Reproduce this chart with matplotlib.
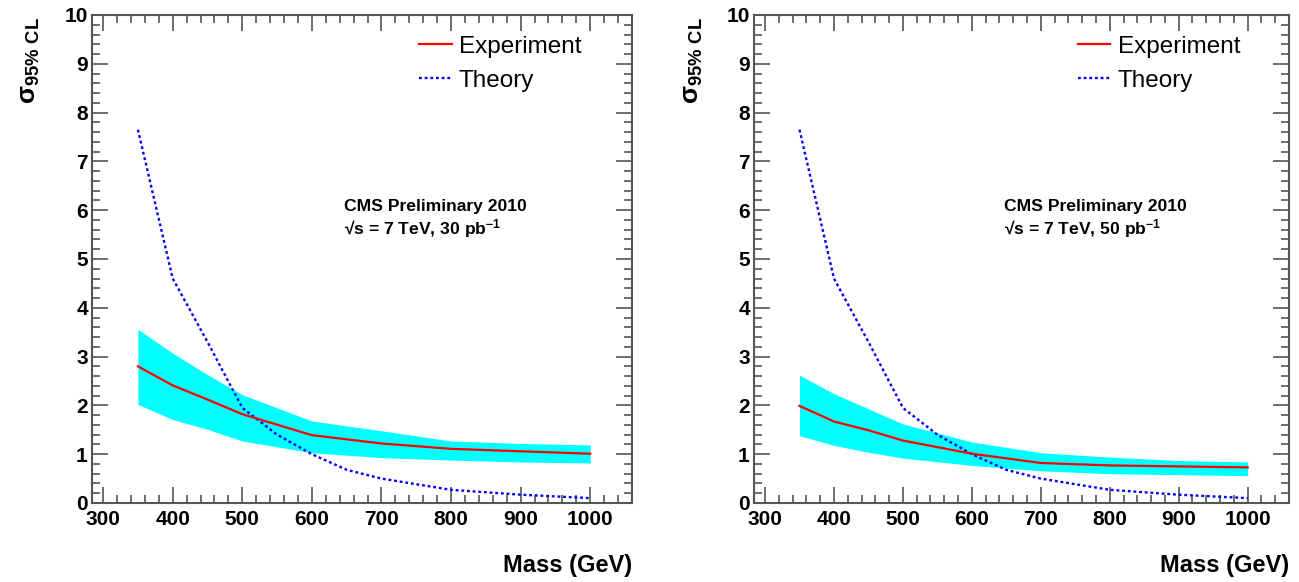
import numpy as np
import matplotlib
matplotlib.use("Agg")
import matplotlib.pyplot as plt
from matplotlib.ticker import MultipleLocator

plt.rcParams['font.family'] = ['Liberation Sans', 'DejaVu Sans']
plt.rcParams['mathtext.fontset'] = 'custom'
plt.rcParams['mathtext.rm'] = 'Liberation Sans'
plt.rcParams['mathtext.bf'] = 'Liberation Sans:bold'
plt.rcParams['mathtext.it'] = 'Liberation Sans:bold'

# mass points (GeV)
mass = [350, 400, 450, 500, 600, 700, 800, 900, 1000]

# 30 pb^-1
exp_30 = [2.80, 2.41, 2.12, 1.82, 1.39, 1.22, 1.11, 1.06, 1.01]
hi_30 = [3.56, 3.07, 2.63, 2.22, 1.68, 1.48, 1.27, 1.22, 1.19]
lo_30 = [2.02, 1.71, 1.51, 1.27, 1.03, 0.93, 0.88, 0.84, 0.82]

# 50 pb^-1
exp_50 = [1.99, 1.67, 1.49, 1.28, 1.01, 0.82, 0.77, 0.75, 0.73]
hi_50 = [2.62, 2.24, 1.93, 1.62, 1.25, 1.03, 0.94, 0.87, 0.84]
lo_50 = [1.38, 1.18, 1.04, 0.92, 0.77, 0.66, 0.60, 0.58, 0.56]

# theory cross section
th_mass = [350, 400, 450, 500, 550, 600, 650, 700, 800, 900, 1000]
theory = [7.65, 4.6, 3.3, 1.95, 1.4, 1.0, 0.68, 0.5, 0.27, 0.17, 0.1]

lumis = ["30", "50"]

fig = plt.figure(figsize=(12.99, 5.82), dpi=100)
W, H = 1299, 582
boxes = [(92, 632), (754, 1289)]
top, bot = 15, 503

panels = [(exp_30, hi_30, lo_30), (exp_50, hi_50, lo_50)]

for (x0, x1), (e, hi, lo), lumi in zip(boxes, panels, lumis):
    ax = fig.add_axes([x0 / W, (H - bot) / H, (x1 - x0) / W, (bot - top) / H])
    ax.fill_between(mass, lo, hi, color='#00FFFF', lw=0, zorder=1)
    ax.plot(mass, e, color='#FF0000', lw=1.6, label='Experiment', zorder=3)
    ax.plot(th_mass, theory, color='#0000FF', lw=1.7, ls=(0, (1.2, 1.2)),
            label='Theory', zorder=2)
    ax.set_xlim(284, 1060)
    ax.set_ylim(0, 10)
    ax.xaxis.set_major_locator(MultipleLocator(100))
    ax.xaxis.set_minor_locator(MultipleLocator(20))
    ax.yaxis.set_major_locator(MultipleLocator(1))
    ax.yaxis.set_minor_locator(MultipleLocator(0.2))
    ax.tick_params(which='both', direction='in', top=True, right=True,
                   color='#555555', width=1.2)
    ax.tick_params(which='major', length=11.5, labelsize=15)
    ax.tick_params(which='minor', length=5.8)
    ax.tick_params(axis='x', which='major', pad=5)
    ax.tick_params(axis='y', which='major', pad=3)
    for lab in ax.get_xticklabels() + ax.get_yticklabels():
        lab.set_fontweight('bold')
    for sp in ax.spines.values():
        sp.set_color('#555555')
        sp.set_linewidth(1.5)

    ax.set_xlabel('Mass (GeV)', loc='right', fontsize=17, fontweight='bold')
    ax.xaxis.set_label_coords(1.0, -0.104)
    ax.set_ylabel(r'σ$_{\mathbf{95\%\ CL}}$', loc='top', fontsize=19,
                  fontweight='bold')
    ax.yaxis.set_label_coords(-0.092, 0.996)

    ax.text(646, 5.98, 'CMS Preliminary 2010', fontsize=12.6, fontweight='bold')
    ax.text(646, 5.5, '√s = 7 TeV, ' + lumi + r' pb$^{\mathbf{-1}}$',
            fontsize=12.6, fontweight='bold')

    ax.legend(loc='upper left', bbox_to_anchor=(0.605, 0.958), frameon=False,
              fontsize=17.5, handlelength=1.35, handletextpad=0.3,
              labelspacing=0.5, borderpad=0, borderaxespad=0)

fig.savefig('out.png', dpi=100)
